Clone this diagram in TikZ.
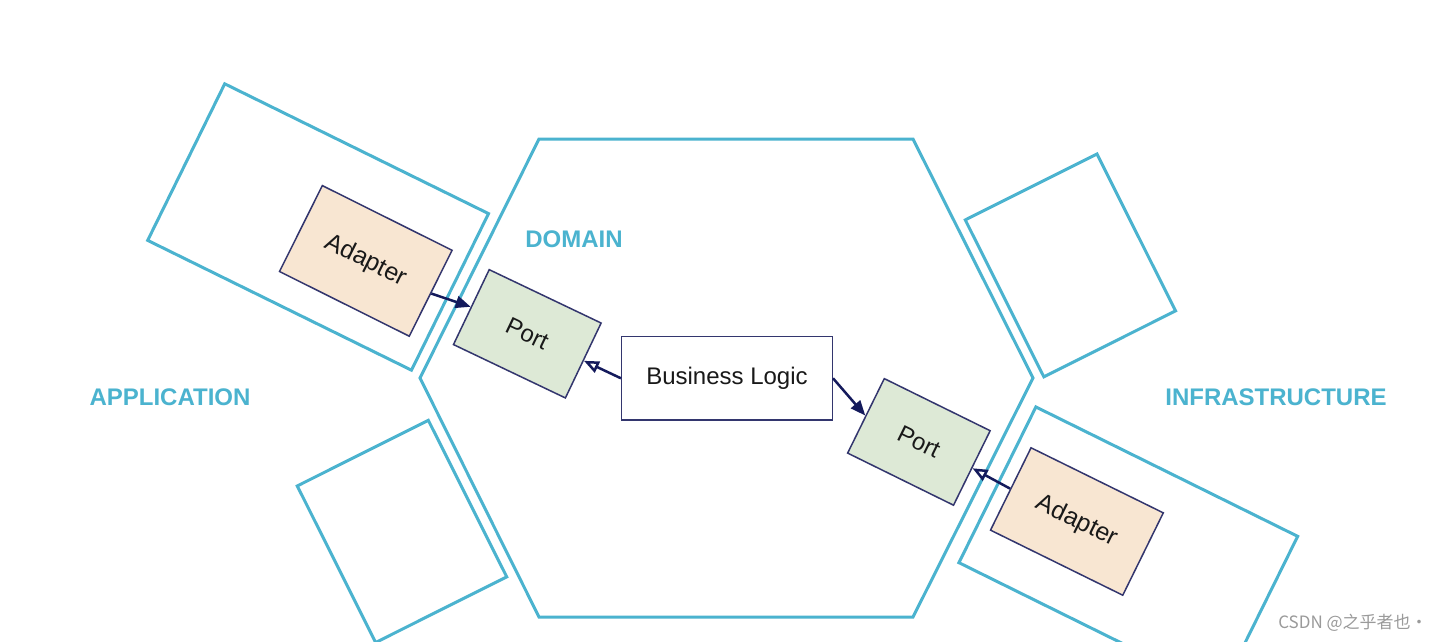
\documentclass[tikz,border=0pt]{standalone}
\usepackage{fontspec}
\setmainfont{Liberation Sans}
\newfontfamily\cjkfont{Noto Sans CJK SC}
\usetikzlibrary{arrows.meta}
\definecolor{hexcyan}{HTML}{4BB3CF}
\definecolor{navyline}{HTML}{33366E}
\definecolor{arrownavy}{HTML}{141A5C}
\definecolor{adapterfill}{HTML}{F8E6D2}
\definecolor{portfill}{HTML}{DDE9D6}
\definecolor{wmgray}{HTML}{9A9A9A}
\begin{document}
\begin{tikzpicture}[x=1pt,y=-1pt,
  zone/.style={draw=hexcyan,line width=3pt,inner sep=0pt},
  box/.style={draw=navyline,line width=1.5pt,inner sep=0pt,text=black!90,font=\fontsize{24}{28}\selectfont},
  adapterbox/.style={box,fill=adapterfill,font=\fontsize{25}{29}\selectfont},
  portbox/.style={box,fill=portfill},
  logicbox/.style={box,fill=white},
  layer/.style={text=hexcyan,font=\bfseries\fontsize{24}{28}\selectfont},
  link/.style={draw=arrownavy,line width=2.5pt,-{Triangle[length=15pt,width=12pt]}},
  openlink/.style={draw=arrownavy,line width=2.5pt,-{Triangle[open,fill=white,length=15pt,width=12pt]}}]
\useasboundingbox (0,0) rectangle (1444,642);
\clip (0,0) rectangle (1444,642);
\fill[white] (0,0) rectangle (1444,642);

% domain hexagon
\draw[hexcyan,line width=3pt,line join=miter] (539,139) -- (913,139) -- (1033,378) -- (913,617) -- (539,617) -- (420,378) -- cycle;

% outer zones
\node[zone,rotate=-26.2,minimum width=294pt,minimum height=174.5pt] (appzone) at (318.1,227) {};
\node[zone,rotate=26.6,minimum width=146.6pt,minimum height=175.1pt] (appzone2) at (402,531.4) {};
\node[zone,rotate=26.6,minimum width=147.3pt,minimum height=175.5pt] (infzone2) at (1070.4,265.4) {};
\node[zone,rotate=-26.3,minimum width=292pt,minimum height=173.7pt] (infzone) at (1128.3,549.5) {};

% layer labels
\node[layer] (domain) at (574,239) {DOMAIN};
\node[layer] (application) at (170,397) {APPLICATION};
\node[layer] (infrastructure) at (1276,397) {INFRASTRUCTURE};

% boxes
\node[adapterbox,rotate=-26.5,minimum width=145pt,minimum height=96pt] (ladapter) at (365.8,260.9) {Adapter};
\node[portbox,rotate=-25.5,minimum width=124pt,minimum height=83pt] (lport) at (527.3,333.8) {Port};
\node[logicbox,minimum width=210.6pt,minimum height=83.3pt] (logic) at (727,378.3) {Business Logic};
\node[portbox,rotate=-26.2,minimum width=118pt,minimum height=83pt] (rport) at (918.9,441.9) {Port};
\node[adapterbox,rotate=-26.2,minimum width=147.4pt,minimum height=91.8pt] (radapter) at (1076.9,521.5) {Adapter};

% connectors
\draw[link] (ladapter.east) -- (lport.west);
\draw[openlink] (logic.west) -- (lport.east);
\draw[link] (logic.east) -- (rport.west);
\draw[openlink] (radapter.west) -- (rport.east);

% watermark
\node[text=wmgray,font=\cjkfont\fontsize{17}{20}\selectfont] (wm) at (1353,623) {CSDN @之乎者也·};
\end{tikzpicture}
\end{document}
